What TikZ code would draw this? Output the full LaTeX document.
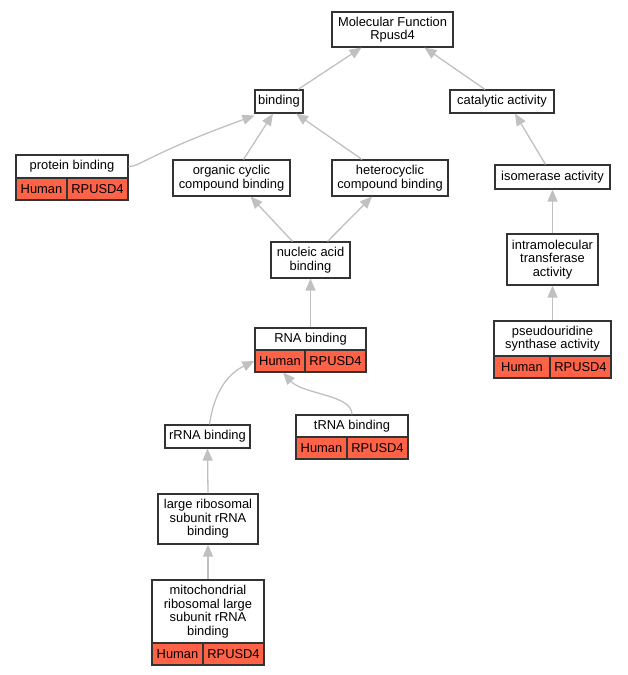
\documentclass[tikz,border=0pt]{standalone}
\usepackage{fontspec}
\setmainfont{Liberation Sans}
\usetikzlibrary{arrows.meta}
\definecolor{genered}{RGB}{255,99,71}
\definecolor{edgegray}{RGB}{192,192,192}
\definecolor{boxline}{RGB}{51,51,51}

\begin{document}
\begin{tikzpicture}[x=1pt,y=-1pt,
    term/.style={draw=boxline,line width=1.1pt,fill=white,align=center,inner sep=0pt,
      font=\fontsize{12.9}{13.6}\selectfont},
    gene/.style={term,fill=genered,minimum height=22pt},
    edge/.style={draw=edgegray,line width=1.3pt,-{Triangle[length=12pt,width=10pt]}}]
  \useasboundingbox (0,0) rectangle (628,675);

  % terms
  \node[term,minimum width=121pt,minimum height=35pt](mf) at (392.5,29.5){Molecular Function\\Rpusd4};
  \node[term,minimum width=48pt,minimum height=23pt](bind) at (279,101.5){binding};
  \node[term,minimum width=104pt,minimum height=23pt](cat) at (502,101.5){catalytic activity};
  \node[term,minimum width=112pt,minimum height=23pt](pb) at (72,166.5){protein binding};
  \node[gene,minimum width=51pt](pbh) at (41.5,189){Human};
  \node[gene,minimum width=61pt](pbg) at (97.5,189){RPUSD4};
  \node[term,minimum width=117pt,minimum height=36pt](oc) at (231.5,178){organic cyclic\\compound binding};
  \node[term,minimum width=116pt,minimum height=36pt](hc) at (390,178){heterocyclic\\compound binding};
  \node[term,minimum width=115pt,minimum height=24pt](iso) at (552.5,177){isomerase activity};
  \node[term,minimum width=79pt,minimum height=36pt](na) at (310.5,260){nucleic acid\\binding};
  \node[term,minimum width=91pt,minimum height=51pt](itr) at (552.5,259.5){intramolecular\\transferase\\activity};
  \node[term,minimum width=111pt,minimum height=22pt](rna) at (310.5,339){RNA binding};
  \node[gene,minimum width=50pt](rnah) at (280,361){Human};
  \node[gene,minimum width=61pt](rnag) at (335.5,361){RPUSD4};
  \node[term,minimum width=117pt,minimum height=35pt](ps) at (552.5,338.5){pseudouridine\\synthase activity};
  \node[gene,minimum width=56pt](psh) at (522,367){Human};
  \node[gene,minimum width=61pt](psg) at (580.5,367){RPUSD4};
  \node[term,minimum width=85pt,minimum height=23pt](rrna) at (207.5,436.5){rRNA binding};
  \node[term,minimum width=112pt,minimum height=22pt](trna) at (352,426){tRNA binding};
  \node[gene,minimum width=51pt](trnah) at (321.5,448){Human};
  \node[gene,minimum width=61pt](trnag) at (377.5,448){RPUSD4};
  \node[term,minimum width=100pt,minimum height=50pt](lr) at (208,519){large ribosomal\\subunit rRNA\\binding};
  \node[term,minimum width=112pt,minimum height=63pt](mito) at (208,611.5){mitochondrial\\ribosomal large\\subunit rRNA\\binding};
  \node[gene,minimum width=51pt](mitoh) at (177.5,654){Human};
  \node[gene,minimum width=61pt](mitog) at (233.5,654){RPUSD4};

  % is_a edges
  \draw[edge] ([xshift=19pt]bind.north) -- ([xshift=-31pt]mf.south);
  \draw[edge] ([xshift=-17pt]cat.north) -- ([xshift=32pt]mf.south);
  \draw[edge] (pb.east) .. controls +(12,0) and +(-105,38) .. ([yshift=-2pt]bind.south west);
  \draw[edge] ([xshift=12pt]oc.north) -- ([xshift=-6pt]bind.south);
  \draw[edge] ([xshift=-28pt]hc.north) -- ([xshift=17pt]bind.south);
  \draw[edge] ([xshift=-18pt]na.north) -- ([xshift=19pt]oc.south);
  \draw[edge] ([xshift=17pt]na.north) -- ([xshift=-18pt]hc.south);
  \draw[edge] (rna.north) -- (na.south);
  \draw[edge] ([xshift=2pt]rrna.north) .. controls +(5,-35) and +(-25,12) .. (rnah.west);
  \draw[edge] (trna.north) .. controls +(0,-20) and +(20,22) .. ([xshift=3pt]rnah.south);
  \draw[edge] (lr.north) -- (rrna.south);
  \draw[edge] (mito.north) -- (lr.south);
  \draw[edge] ([xshift=-7pt]iso.north) -- ([xshift=13pt]cat.south);
  \draw[edge] (itr.north) -- (iso.south);
  \draw[edge] (ps.north) -- (itr.south);
\end{tikzpicture}
\end{document}
